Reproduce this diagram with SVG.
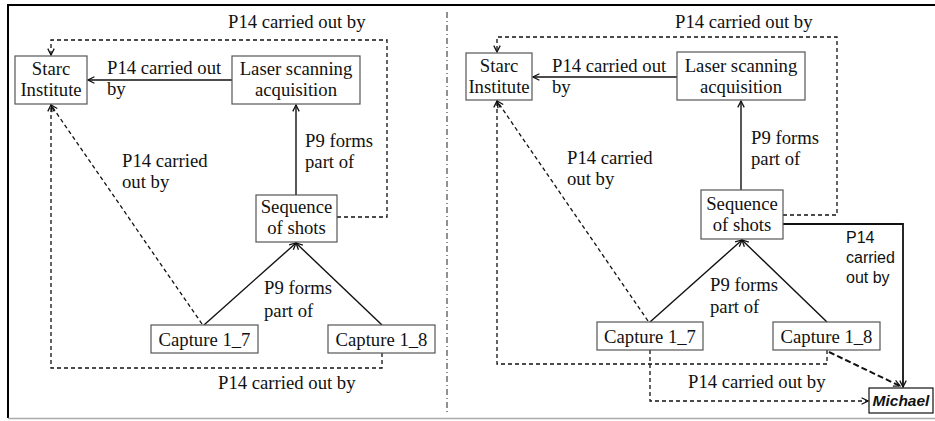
<svg xmlns="http://www.w3.org/2000/svg" width="935" height="421" viewBox="0 0 935 421">
<style>
  .box{fill:#fff;stroke:#555;stroke-width:1.2}
  .t{font-family:'Liberation Serif','Tinos','Times New Roman','Noto Serif','DejaVu Serif',serif;font-size:18.7px;fill:#111}
  .m{text-anchor:middle}
  .s{font-family:'Liberation Sans',Arial,sans-serif;font-size:16px;fill:#111}
  .sol{fill:none;stroke:#111;stroke-width:1.4;marker-end:url(#ah)}
  .dash{fill:none;stroke:#111;stroke-width:1.3;stroke-dasharray:4 3;marker-end:url(#ah)}
  .dashb{fill:none;stroke:#111;stroke-width:2;stroke-dasharray:6 3;marker-end:url(#ah)}
  .frame{stroke:#000;stroke-width:2;fill:none}
</style>
<defs>
  <marker id="ah" viewBox="0 0 10 10" refX="9" refY="5" markerWidth="8" markerHeight="8" markerUnits="userSpaceOnUse" orient="auto">
    <path d="M1,1 L9,5 L1,9" fill="none" stroke="#111" stroke-width="1.6"/>
  </marker>
</defs>
<rect width="935" height="421" fill="#fff"/>
<g id="frame">
  <line class="frame" x1="7" y1="5" x2="935" y2="5"/>
  <line class="frame" x1="8" y1="4" x2="8" y2="418"/>
  <line x1="8" y1="418.5" x2="935" y2="418.5" stroke="#aaa" stroke-width="1.5"/>
  <line x1="447" y1="12" x2="447" y2="415" stroke="#222" stroke-width="1" stroke-dasharray="6 3 1 3"/>
</g>
<g id="connectors">
  <line class="sol" x1="232" y1="80" x2="88" y2="80"/>
  <line class="sol" x1="296" y1="195" x2="296" y2="105"/>
  <line class="sol" x1="204" y1="325" x2="296" y2="243"/>
  <line class="sol" x1="382" y1="325" x2="296" y2="243"/>
  <line class="dash" x1="202" y1="324" x2="51" y2="105"/>
  <polyline class="dash" points="337,217 387,217 387,40 51,40 51,55"/>
  <polyline class="dash" points="382,353 382,368 51,368 51,105"/>
  <line class="sol" x1="677" y1="77" x2="533" y2="77"/>
  <line class="sol" x1="741" y1="190" x2="741" y2="101"/>
  <line class="sol" x1="650" y1="322" x2="742" y2="240"/>
  <line class="sol" x1="827" y1="322" x2="742" y2="240"/>
  <line class="dash" x1="648" y1="321" x2="497" y2="101"/>
  <polyline class="dash" points="783,215 837,215 837,37 497,37 497,52"/>
  <polyline class="dash" points="827,350 827,364 497,364 497,101"/>
  <polyline class="dash" points="650,350 650,401 868,401"/>
  <polyline class="sol" style="stroke-width:1.8" points="783,224 903,224 903,387"/>
  <line class="dashb" x1="829" y1="352" x2="900" y2="386"/>
</g>
<g id="labels">
  <text class="t" x="107" y="74">P14 carried out</text>
  <text class="t" x="107" y="95">by</text>
  <text class="t" x="228" y="28">P14 carried out by</text>
  <text class="t" x="305" y="147">P9 forms</text>
  <text class="t" x="305" y="168">part of</text>
  <text class="t" x="122" y="167">P14 carried</text>
  <text class="t" x="122" y="188">out by</text>
  <text class="t" x="264" y="294">P9 forms</text>
  <text class="t" x="264" y="317">part of</text>
  <text class="t" x="218" y="389">P14 carried out by</text>
  <text class="t" x="552" y="72">P14 carried out</text>
  <text class="t" x="552" y="93">by</text>
  <text class="t" x="675" y="28">P14 carried out by</text>
  <text class="t" x="751" y="144">P9 forms</text>
  <text class="t" x="751" y="165">part of</text>
  <text class="t" x="567" y="164">P14 carried</text>
  <text class="t" x="567" y="185">out by</text>
  <text class="t" x="710" y="291">P9 forms</text>
  <text class="t" x="710" y="313">part of</text>
  <text class="t" x="688" y="388">P14 carried out by</text>
  <text class="s" x="846" y="243">P14</text>
  <text class="s" x="846" y="263">carried</text>
  <text class="s" x="846" y="283">out by</text>
</g>
<g id="starc-left">
  <rect class="box" x="15" y="56" width="72" height="48"/>
  <text class="t m" x="51" y="75">Starc</text>
  <text class="t m" x="51" y="96">Institute</text>
</g>
<g id="laser-left">
  <rect class="box" x="232" y="56" width="128" height="48"/>
  <text class="t m" x="296" y="75">Laser scanning</text>
  <text class="t m" x="296" y="96">acquisition</text>
</g>
<g id="sequence-left">
  <rect class="box" x="256" y="195" width="81" height="47"/>
  <text class="t m" x="296.5" y="213">Sequence</text>
  <text class="t m" x="296.5" y="234">of shots</text>
</g>
<g id="capture17-left">
  <rect class="box" x="151" y="325" width="107" height="28"/>
  <text class="t m" x="204.5" y="346">Capture 1_7</text>
</g>
<g id="capture18-left">
  <rect class="box" x="328" y="325" width="107" height="28"/>
  <text class="t m" x="381.5" y="346">Capture 1_8</text>
</g>
<g id="starc-right">
  <rect class="box" x="466" y="53" width="66" height="47"/>
  <text class="t m" x="499" y="72">Starc</text>
  <text class="t m" x="499" y="93">Institute</text>
</g>
<g id="laser-right">
  <rect class="box" x="677" y="52" width="128" height="48"/>
  <text class="t m" x="741" y="72">Laser scanning</text>
  <text class="t m" x="741" y="93">acquisition</text>
</g>
<g id="sequence-right">
  <rect class="box" x="701" y="190" width="82" height="49"/>
  <text class="t m" x="742" y="210">Sequence</text>
  <text class="t m" x="742" y="231">of shots</text>
</g>
<g id="capture17-right">
  <rect class="box" x="597" y="322" width="106" height="28"/>
  <text class="t m" x="650" y="343">Capture 1_7</text>
</g>
<g id="capture18-right">
  <rect class="box" x="773" y="322" width="107" height="28"/>
  <text class="t m" x="826.5" y="343">Capture 1_8</text>
</g>
<g id="michael">
  <rect x="869" y="388" width="64" height="25" fill="#fff" stroke="#111" stroke-width="1.2"/>
  <text x="901" y="406" text-anchor="middle" font-family="'Liberation Sans',Arial,sans-serif" font-size="15.5" font-weight="bold" font-style="italic" fill="#111">Michael</text>
</g>
</svg>
